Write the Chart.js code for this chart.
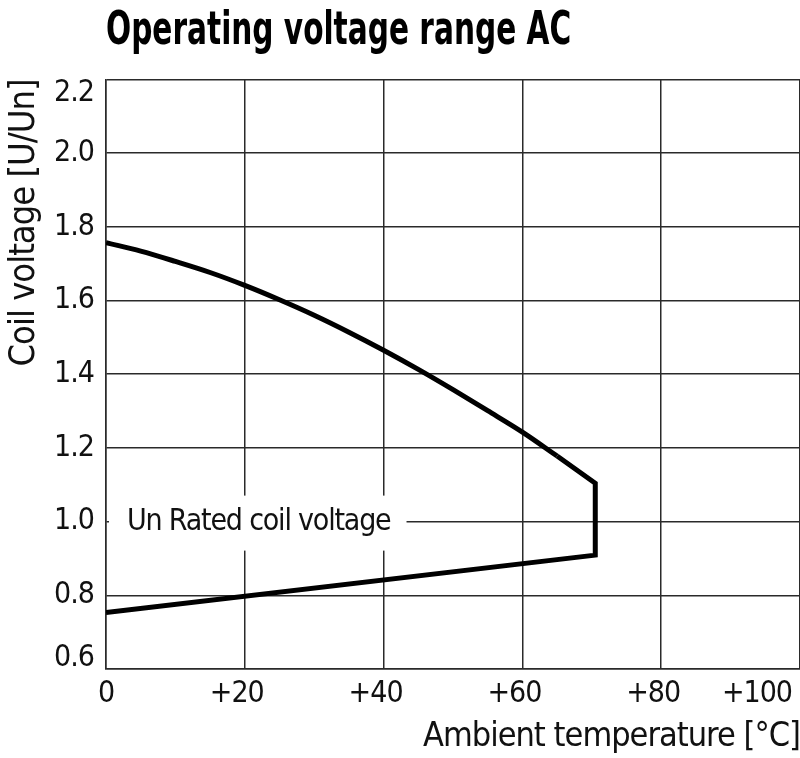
<!DOCTYPE html>
<html>
<head>
<meta charset="utf-8">
<script src="https://cdn.jsdelivr.net/npm/chart.js@4/dist/chart.umd.min.js"></script>
<style>
  html, body { margin: 0; padding: 0; background: #fff; }
  #wrap { width: 800px; height: 758px; position: relative; }
</style>
</head>
<body>
<div id="wrap"><canvas id="c"></canvas></div>
<script>
// Upper limit curve (temperature °C -> U/Un)
const upperTemps  = [0, 5, 10, 15, 20, 25, 30, 35, 40, 45, 50, 55, 60, 65];
const upperValues = [1.757, 1.734, 1.706, 1.676, 1.641, 1.602, 1.560, 1.514, 1.465, 1.413, 1.358, 1.301, 1.243, 1.178];
// Upper end, right edge and lower limit line (from 65 °C to max temperature, then back to 0 °C)
const lowerTemps  = [65, 70.5, 70.5, 0];
const lowerValues = [1.178, 1.104, 0.909, 0.753];
// Axis ticks
const xTicks = [0, 20, 40, 60, 80, 100];
const xTickLabels = ['0', '+20', '+40', '+60', '+80', '+100'];
const yTicks = [0.6, 0.8, 1.0, 1.2, 1.4, 1.6, 1.8, 2.0, 2.2];
const ratedValue = 1.0;
const ratedLabel = 'Un Rated coil voltage';

const FONT = "'Liberation Sans Narrow', 'DejaVu Sans Condensed', 'Roboto Condensed', sans-serif";

const upperPts = upperTemps.map((t, i) => ({x: t, y: upperValues[i]}));
const lowerPts = lowerTemps.map((t, i) => ({x: t, y: lowerValues[i]}));

const condensePlugin = {
  id: 'condense',
  beforeLayout(chart) { chart.ctx.letterSpacing = '-1px'; },
  beforeDraw(chart) {
    chart.ctx.letterSpacing = '-1px';
    const tb = chart.titleBlock;
    if (tb && !tb._patched) {
      const orig = tb.draw;
      tb.draw = function (area) {
        const ctx = chart.ctx;
        ctx.save();
        ctx.letterSpacing = '0px';
        const x0 = this.left;
        ctx.translate(x0, 0);
        ctx.scale(0.70, 1);
        ctx.translate(-x0, 0);
        orig.call(this, area);
        ctx.restore();
      };
      tb._patched = true;
    }
  }
};

const ratedPlugin = {
  id: 'rated',
  beforeDatasetsDraw(chart) {
    const {ctx, scales: {x, y}} = chart;
    const yy = y.getPixelForValue(ratedValue);
    ctx.save();
    ctx.letterSpacing = '-1.2px';
    ctx.font = '30px ' + FONT;
    const w = ctx.measureText(ratedLabel).width;
    const tx = x.left + 21;
    ctx.fillStyle = '#fff';
    ctx.fillRect(x.left + 3, yy - 26, (tx - x.left - 3) + w + 16, 55);
    ctx.fillStyle = '#111';
    ctx.textBaseline = 'middle';
    ctx.textAlign = 'left';
    ctx.fillText(ratedLabel, tx, yy + 1);
    ctx.restore();
  }
};

const lineStyle = {
  borderColor: '#000',
  borderWidth: 5,
  pointRadius: 0,
  fill: false,
  borderJoinStyle: 'miter',
  borderCapStyle: 'butt'
};

new Chart(document.getElementById('c'), {
  type: 'line',
  data: {
    datasets: [
      Object.assign({ data: upperPts, cubicInterpolationMode: 'monotone' }, lineStyle),
      Object.assign({ data: lowerPts, tension: 0 }, lineStyle)
    ]
  },
  plugins: [condensePlugin, ratedPlugin],
  options: {
    responsive: true,
    maintainAspectRatio: false,
    animation: false,
    layout: { padding: 0 },
    plugins: {
      legend: { display: false },
      tooltip: { enabled: false },
      title: {
        display: true,
        text: 'Operating voltage range AC',
        align: 'start',
        fullSize: false,
        color: '#000',
        font: { family: FONT, size: 47, weight: 'bold', lineHeight: 1.2 },
        padding: { top: 4, bottom: 19 }
      }
    },
    scales: {
      x: {
        type: 'linear',
        min: 0, max: 100,
        afterBuildTicks(s) { s.ticks = xTicks.map(v => ({value: v})); },
        afterFit(s) { s.height = 89; s.paddingLeft = 0; s.paddingRight = 0; },
        grid: { color: '#2a2a2a', lineWidth: 1.5, drawTicks: false },
        border: { color: '#2a2a2a', width: 1.5 },
        ticks: {
          color: '#111',
          padding: 7,
          align: 'inner',
          labelOffset: -8,
          maxRotation: 0,
          autoSkip: false,
          font: { family: FONT, size: 30 },
          callback: (v) => xTickLabels[xTicks.indexOf(v)]
        },
        title: {
          display: true,
          text: 'Ambient temperature [°C]',
          align: 'end',
          color: '#111',
          font: { family: FONT, size: 34 },
          padding: { top: 5, bottom: 0 }
        }
      },
      y: {
        type: 'linear',
        min: 0.6, max: 2.2,
        afterBuildTicks(s) { s.ticks = yTicks.map(v => ({value: v})); },
        afterFit(s) { s.width = 106; },
        grid: { color: '#2a2a2a', lineWidth: 1.5, drawTicks: false },
        border: { color: '#2a2a2a', width: 1.5 },
        ticks: {
          color: '#111',
          padding: 12,
          autoSkip: false,
          font: (c) => {
            const v = c.tick ? c.tick.value : null;
            if (v !== null && Math.abs(v - 2.2) < 1e-6) return { family: FONT, size: 30, lineHeight: '28px' };
            if (v !== null && Math.abs(v - 0.6) < 1e-6) return { family: FONT, size: 30, lineHeight: '22px' };
            return { family: FONT, size: 30 };
          },
          callback: (v) => {
            const s = v.toFixed(1);
            if (Math.abs(v - 2.2) < 1e-6) return ['', s];
            if (Math.abs(v - 0.6) < 1e-6) return [s, ''];
            return s;
          }
        },
        title: {
          display: true,
          text: 'Coil voltage [U/Un]',
          align: 'end',
          color: '#111',
          font: { family: FONT, size: 36 },
          padding: { top: 3, bottom: 0 }
        }
      }
    }
  }
});
</script>
</body>
</html>
